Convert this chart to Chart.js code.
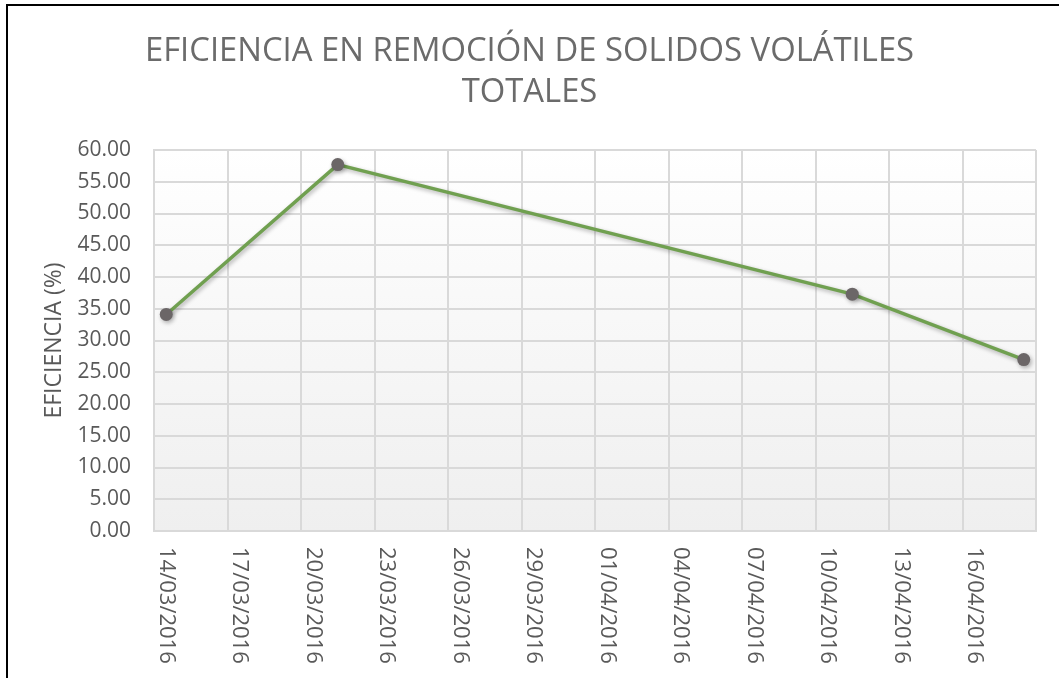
<!DOCTYPE html>
<html>
<head>
<meta charset="utf-8">
<script src="https://cdn.jsdelivr.net/npm/chart.js@4/dist/chart.umd.min.js"></script>
<style>
  html, body { margin: 0; padding: 0; background: #fff; }
  #wrap { width: 1059px; height: 678px; position: relative; }
</style>
</head>
<body>
<div id="wrap"><canvas id="chart"></canvas></div>
<script>
// data
const dates = ['14/03/2016', '21/03/2016', '11/04/2016', '18/04/2016'];
const eficiencia = [34.1, 57.7, 37.3, 27.0];
const axisStart = '14/03/2016';
const axisEnd = '19/04/2016';
const dayStep = 3;
const yMin = 0, yMax = 60, yStep = 5;
const titleLines = ['EFICIENCIA EN REMOCIÓN DE SOLIDOS VOLÁTILES', 'TOTALES'];
const yTitle = 'EFICIENCIA (%)';

function toUTC(s) {
    const p = s.split('/');
    return Date.UTC(+p[2], +p[1] - 1, +p[0]);
}
const t0 = toUTC(axisStart);
function dayIndex(s) { return Math.round((toUTC(s) - t0) / 86400000); }
function fmtDay(d) {
    const dt = new Date(t0 + d * 86400000);
    const dd = String(dt.getUTCDate()).padStart(2, '0');
    const mm = String(dt.getUTCMonth() + 1).padStart(2, '0');
    return dd + '/' + mm + '/' + dt.getUTCFullYear();
}

// Excel puts each date in the middle of its day slot
const points = dates.map((d, i) => ({ x: dayIndex(d) + 0.5, y: eficiencia[i] }));

const frame = {
    id: 'frame',
    beforeDraw(chart) {
        const ctx = chart.ctx, a = chart.chartArea;
        ctx.save();
        const g = ctx.createLinearGradient(0, a.top, 0, a.bottom);
        g.addColorStop(0, '#ffffff');
        g.addColorStop(1, '#efefef');
        ctx.fillStyle = g;
        ctx.fillRect(a.left, a.top, a.right - a.left, a.bottom - a.top);
        ctx.strokeStyle = '#000';
        ctx.lineWidth = 2;
        ctx.strokeRect(7, 5, 1200, 800);
        ctx.restore();
    },
    beforeDatasetsDraw(chart) {
        const ctx = chart.ctx;
        ctx.save();
        ctx.shadowColor = 'rgba(0,0,0,0.3)';
        ctx.shadowBlur = 4;
        ctx.shadowOffsetX = 1.5;
        ctx.shadowOffsetY = 2;
    },
    afterDatasetsDraw(chart) {
        chart.ctx.restore();
    },
    afterDraw(chart) {
        const ctx = chart.ctx, x = chart.scales.x;
        ctx.save();
        // chart title, centred on the whole canvas
        ctx.font = '32.8px "Open Sans"';
        ctx.fillStyle = '#6b6b6b';
        ctx.textAlign = 'center';
        ctx.textBaseline = 'middle';
        titleLines.forEach((t, i) => ctx.fillText(t, chart.width / 2, 52 + i * 41));
        // date labels read top-to-bottom, centred in each day slot
        ctx.font = '22px "Open Sans"';
        ctx.fillStyle = '#595959';
        ctx.textAlign = 'left';
        x.ticks.forEach(t => {
            if (t.value >= x.max) return;
            const px = x.getPixelForValue(t.value + 0.5);
            ctx.save();
            ctx.translate(px, chart.chartArea.bottom + 16);
            ctx.rotate(Math.PI / 2);
            ctx.fillText(fmtDay(t.value), 0, 0);
            ctx.restore();
        });
        ctx.restore();
    }
};

new Chart(document.getElementById('chart'), {
    type: 'line',
    data: {
        datasets: [{
            label: 'Eficiencia',
            data: points,
            borderColor: '#70a050',
            borderWidth: 3.5,
            pointBackgroundColor: '#6b6667',
            pointBorderColor: '#6b6667',
            pointRadius: 6.5,
            pointBorderWidth: 0,
            tension: 0,
            fill: false
        }]
    },
    options: {
        responsive: true,
        maintainAspectRatio: false,
        animation: false,
        layout: { padding: { left: 0, right: 23, top: 150, bottom: 0 } },
        plugins: {
            legend: { display: false },
            tooltip: { enabled: false },
            title: { display: false }
        },
        scales: {
            x: {
                type: 'linear',
                min: dayIndex(axisStart),
                max: dayIndex(axisEnd),
                ticks: { stepSize: dayStep, display: false },
                grid: { color: '#d9d9d9', lineWidth: 2, drawTicks: false },
                border: { color: '#d9d9d9', width: 2 },
                afterFit(s) { s.height = 147; }
            },
            y: {
                min: yMin,
                max: yMax,
                ticks: {
                    stepSize: yStep,
                    padding: 23,
                    color: '#595959',
                    font: { family: 'Open Sans', size: 21 },
                    callback: v => v.toFixed(2)
                },
                grid: { color: '#d9d9d9', lineWidth: 2, drawTicks: false },
                border: { color: '#d9d9d9', width: 2 },
                title: {
                    display: true,
                    text: yTitle,
                    color: '#595959',
                    font: { family: 'Open Sans', size: 23, lineHeight: 1.2 },
                    padding: { top: 41, bottom: 0 }
                },
                afterFit(s) { s.width = 154; }
            }
        }
    },
    plugins: [frame]
});
</script>
</body>
</html>
